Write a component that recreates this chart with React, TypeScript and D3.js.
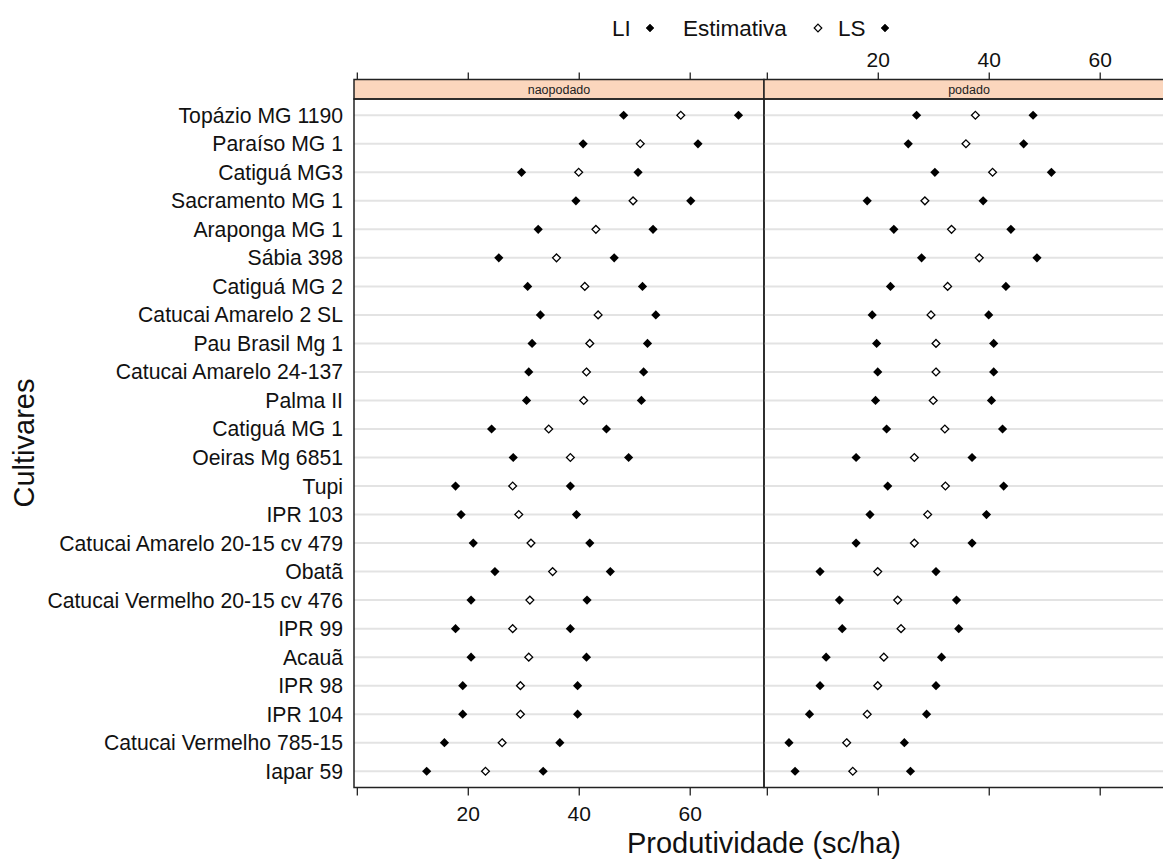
import * as d3 from 'd3';

// cultivars, top to bottom as drawn
const cultivares = [
  'Topázio MG 1190',
  'Paraíso MG 1',
  'Catiguá MG3',
  'Sacramento MG 1',
  'Araponga MG 1',
  'Sábia 398',
  'Catiguá MG 2',
  'Catucai Amarelo 2 SL',
  'Pau Brasil Mg 1',
  'Catucai Amarelo 24-137',
  'Palma II',
  'Catiguá MG 1',
  'Oeiras Mg 6851',
  'Tupi',
  'IPR 103',
  'Catucai Amarelo 20-15 cv 479',
  'Obatã',
  'Catucai Vermelho 20-15 cv 476',
  'IPR 99',
  'Acauã',
  'IPR 98',
  'IPR 104',
  'Catucai Vermelho 785-15',
  'Iapar 59'
];

const paineis = ['naopodado', 'podado'];

// naopodado
const naoLI = [48.0, 40.7, 29.6, 39.4, 32.6, 25.5, 30.7, 33.0, 31.5, 30.9, 30.5, 24.2, 28.1, 17.7, 18.7, 20.9, 24.8, 20.5, 17.7, 20.5, 19.0, 19.0, 15.7, 12.5];
const naoEst = [58.3, 51.0, 39.9, 49.7, 43.0, 35.9, 41.0, 43.4, 41.9, 41.3, 40.8, 34.5, 38.4, 28.0, 29.1, 31.3, 35.2, 31.1, 28.0, 30.9, 29.4, 29.4, 26.1, 23.1];
const naoLS = [68.7, 61.4, 50.6, 60.1, 53.3, 46.3, 51.4, 53.8, 52.3, 51.6, 51.2, 44.9, 48.9, 38.4, 39.5, 41.9, 45.6, 41.4, 38.4, 41.3, 39.7, 39.7, 36.5, 33.5];

// podado
const podLI = [26.9, 25.4, 30.2, 18.0, 22.8, 27.8, 22.2, 18.9, 19.7, 19.9, 19.5, 21.5, 16.0, 21.7, 18.5, 16.0, 9.5, 13.0, 13.5, 10.6, 9.5, 7.6, 3.9, 5.0];
const podEst = [37.5, 35.8, 40.6, 28.4, 33.2, 38.2, 32.5, 29.5, 30.4, 30.4, 29.9, 32.0, 26.5, 32.1, 28.9, 26.5, 19.9, 23.5, 24.1, 21.0, 19.9, 18.0, 14.3, 15.4];
const podLS = [47.9, 46.2, 51.2, 38.9, 43.9, 48.6, 43.0, 39.9, 40.8, 40.8, 40.4, 42.4, 36.9, 42.6, 39.5, 36.9, 30.4, 34.1, 34.5, 31.4, 30.4, 28.7, 24.7, 25.8];

const xTicks = [0, 20, 40, 60];
const xTickLabels = ['', '20', '40', '60'];

const FONT = '"Liberation Sans", Arial, sans-serif';

const W = 1163;
const H = 859;
const panelLeft = 354;
const panelW = 410;
const stripTop = 79.5;
const panelTop = 99;
const panelBottom = 787.5;

const diamond = (r: number) =>
  `M0,${-r}L${r},0L0,${r}L${-r},0Z`;

export default function App() {
  const x = d3.scaleLinear().domain([-0.6, 73.3]).range([0, panelW]);
  const y = d3.scalePoint<string>().domain(cultivares).range([panelTop, panelBottom]).padding(0.57);

  const series = [
    { li: naoLI, est: naoEst, ls: naoLS },
    { li: podLI, est: podEst, ls: podLS }
  ];

  const legend = [
    { label: 'LI', tx: 612, mx: 650, open: false },
    { label: 'Estimativa', tx: 683, mx: 818, open: true },
    { label: 'LS', tx: 838, mx: 885, open: false }
  ];

  return (
    <svg
      width={W}
      height={H}
      style={{ position: 'absolute', left: 0, top: 0, background: '#fff' }}
      fontFamily={FONT}
    >
      {/* legend */}
      {legend.map((l) => (
        <g key={l.label}>
          <text x={l.tx} y={36} fontSize={22.5} fill="#111">
            {l.label}
          </text>
          <path
            d={diamond(l.open ? 3.8 : 4)}
            transform={`translate(${l.mx},28)`}
            fill={l.open ? '#fff' : '#000'}
            stroke="#000"
            strokeWidth={l.open ? 1.2 : 0.5}
          />
        </g>
      ))}

      {paineis.map((p, pi) => {
        const x0 = panelLeft + pi * panelW;
        const s = series[pi];
        return (
          <g key={p} transform={`translate(${x0},0)`}>
            {/* grid lines */}
            {cultivares.map((c) => (
              <line key={c} x1={0} x2={panelW} y1={y(c)} y2={y(c)} stroke="#e3e3e3" strokeWidth={2} />
            ))}

            {/* points */}
            {cultivares.map((c, i) => (
              <g key={c}>
                <path d={diamond(4.6)} transform={`translate(${x(s.li[i])},${y(c)})`} fill="#000" />
                <path
                  d={diamond(3.9)}
                  transform={`translate(${x(s.est[i])},${y(c)})`}
                  fill="#fff"
                  stroke="#000"
                  strokeWidth={1.3}
                />
                <path d={diamond(4.6)} transform={`translate(${x(s.ls[i])},${y(c)})`} fill="#000" />
              </g>
            ))}

            {/* strip */}
            <rect x={0} y={stripTop} width={panelW} height={panelTop - stripTop} fill="#fbd6bd" stroke="#222" strokeWidth={1.5} />
            <text x={panelW / 2} y={(stripTop + panelTop) / 2 + 4.5} textAnchor="middle" fontSize={12.5} fill="#222">
              {p}
            </text>

            {/* panel border */}
            <rect x={0} y={panelTop} width={panelW} height={panelBottom - panelTop} fill="none" stroke="#222" strokeWidth={1.5} />

            {/* top ticks */}
            {xTicks.map((t, ti) => (
              <g key={`t${t}`} transform={`translate(${x(t)},0)`}>
                <line y1={stripTop} y2={stripTop - 7} stroke="#222" strokeWidth={1.3} />
                {pi === 1 && (
                  <text y={67} textAnchor="middle" fontSize={21} fill="#111">
                    {xTickLabels[ti]}
                  </text>
                )}
              </g>
            ))}

            {/* bottom ticks */}
            {xTicks.map((t, ti) => (
              <g key={`b${t}`} transform={`translate(${x(t)},0)`}>
                <line y1={panelBottom} y2={panelBottom + 8} stroke="#222" strokeWidth={1.3} />
                {pi === 0 && (
                  <text y={821} textAnchor="middle" fontSize={21} fill="#111">
                    {xTickLabels[ti]}
                  </text>
                )}
              </g>
            ))}
          </g>
        );
      })}

      {/* y tick labels */}
      {cultivares.map((c) => (
        <text key={c} x={343} y={(y(c) as number) + 7.5} textAnchor="end" fontSize={21.2} fill="#111">
          {c}
        </text>
      ))}

      {/* axis titles */}
      <text x={panelLeft + panelW} y={853} textAnchor="middle" fontSize={29} fill="#111">
        Produtividade (sc/ha)
      </text>
      <text transform="translate(34,443) rotate(-90)" textAnchor="middle" fontSize={29} fill="#111">
        Cultivares
      </text>
    </svg>
  );
}
